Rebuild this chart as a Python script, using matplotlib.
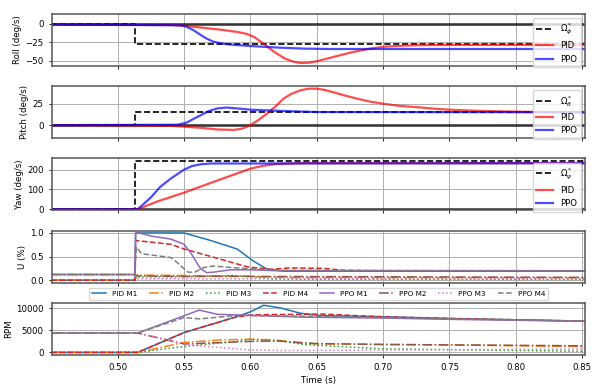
import matplotlib.pyplot as plt

# reference step (deg/s)
t_step = [0.45, 0.513, 0.513, 0.852]
roll_ref = [0, 0, -27, -27]
pitch_ref = [0, 0, 15, 15]
yaw_ref = [0, 0, 243, 243]

t_roll_pid = [0.45, 0.54, 0.55, 0.56, 0.5675, 0.578, 0.59, 0.597, 0.603, 0.61, 0.618, 0.626, 0.632, 0.638,
              0.644, 0.65, 0.662, 0.675, 0.69, 0.70, 0.715, 0.73, 0.76, 0.852]
roll_pid = [-1, -1.5, -2.7, -4.5, -6, -8, -11, -13.5, -18, -27, -38, -47, -51, -53,
            -52.5, -50.5, -45, -39, -33.5, -31, -29.5, -28.7, -28.5, -28.5]
t_roll_ppo = [0.45, 0.548, 0.552, 0.5575, 0.5625, 0.567, 0.572, 0.578, 0.585, 0.60, 0.62, 0.64, 0.66, 0.852]
roll_ppo = [-1, -2, -4, -9, -15, -20, -24, -26.5, -28, -30, -32, -33.5, -34, -34]

t_pitch_pid = [0.45, 0.54, 0.5625, 0.575, 0.5875, 0.594, 0.60, 0.606, 0.6125, 0.619, 0.625, 0.631, 0.6375,
               0.644, 0.65, 0.656, 0.662, 0.67, 0.68, 0.69, 0.70, 0.712, 0.725, 0.74, 0.75, 0.77, 0.79, 0.82, 0.852]
pitch_pid = [0, -0.8, -3, -5, -5.5, -4, 0, 6, 13.5, 22, 31, 36.5, 40.5,
             42.5, 42.5, 41, 38.5, 35, 31, 27.5, 25, 22.5, 21, 19, 18, 16.8, 16, 15.3, 15]
t_pitch_ppo = [0.45, 0.545, 0.552, 0.558, 0.5625, 0.568, 0.575, 0.582, 0.59, 0.60, 0.625, 0.65, 0.852]
pitch_ppo = [0, 0.5, 3, 8, 11.5, 16, 19.5, 20.5, 19.5, 18, 16.5, 15.3, 15]

t_yaw_pid = [0.45, 0.515, 0.53, 0.55, 0.575, 0.60, 0.61, 0.62, 0.64, 0.852]
yaw_pid = [0, 0, 40, 84, 145, 205, 220, 228, 233, 233]
t_yaw_ppo = [0.45, 0.515, 0.525, 0.532, 0.54, 0.55, 0.556, 0.5625, 0.57, 0.852]
yaw_ppo = [0, 0, 60, 113, 155, 200, 218, 227, 231, 232]

# motor commands U
motor_labels = ['PID M1', 'PID M2', 'PID M3', 'PID M4', 'PPO M1', 'PPO M2', 'PPO M3', 'PPO M4']
u_t = [
    [0.45, 0.513, 0.5135, 0.55, 0.57, 0.59, 0.602, 0.612, 0.625, 0.65, 0.852],
    [0.45, 0.513, 0.514, 0.55, 0.60, 0.63, 0.852],
    [0.45, 0.513, 0.514, 0.55, 0.585, 0.60, 0.615, 0.65, 0.852],
    [0.45, 0.513, 0.5135, 0.54, 0.55, 0.578, 0.598, 0.615, 0.63, 0.655, 0.67, 0.70, 0.852],
    [0.45, 0.513, 0.5135, 0.516, 0.526, 0.54, 0.55, 0.555, 0.5625, 0.567, 0.572, 0.585, 0.60, 0.62, 0.852],
    [0.45, 0.513, 0.514, 0.55, 0.60, 0.852],
    [0.45, 0.513, 0.514, 0.60, 0.852],
    [0.45, 0.513, 0.514, 0.518, 0.54, 0.545, 0.55, 0.553, 0.558, 0.565, 0.572, 0.585, 0.60, 0.62, 0.852],
]
u_v = [
    [0, 0, 1.0, 1.0, 0.84, 0.66, 0.41, 0.24, 0.19, 0.19, 0.19],
    [0, 0, 0.11, 0.10, 0.08, 0.06, 0.05],
    [0, 0, 0.07, 0.07, 0.10, 0.08, 0.03, 0.02, 0.015],
    [0, 0, 0.84, 0.76, 0.66, 0.44, 0.28, 0.23, 0.26, 0.25, 0.21, 0.20, 0.20],
    [0.12, 0.12, 1.0, 1.0, 0.93, 0.87, 0.76, 0.58, 0.24, 0.16, 0.17, 0.22, 0.22, 0.20, 0.20],
    [0.12, 0.12, 0.09, 0.08, 0.08, 0.06],
    [0.12, 0.12, 0.03, 0.03, 0.03],
    [0.12, 0.12, 0.70, 0.56, 0.48, 0.37, 0.24, 0.17, 0.17, 0.27, 0.30, 0.27, 0.24, 0.21, 0.20],
]

# motor speeds
rpm_t = [
    [0.45, 0.515, 0.55, 0.5875, 0.60, 0.61, 0.6225, 0.6375, 0.653, 0.70, 0.75, 0.80, 0.852],
    [0.45, 0.515, 0.55, 0.575, 0.60, 0.62, 0.64, 0.70, 0.75, 0.852],
    [0.45, 0.515, 0.55, 0.59, 0.60, 0.625, 0.64, 0.70, 0.852],
    [0.45, 0.515, 0.55, 0.5875, 0.60, 0.62, 0.655, 0.697, 0.75, 0.80, 0.852],
    [0.45, 0.515, 0.5615, 0.575, 0.60, 0.64, 0.70, 0.75, 0.80, 0.852],
    [0.45, 0.515, 0.55, 0.60, 0.62, 0.65, 0.70, 0.852],
    [0.45, 0.515, 0.55, 0.56, 0.60, 0.63, 0.70, 0.852],
    [0.45, 0.515, 0.55, 0.562, 0.59, 0.62, 0.70, 0.852],
]
rpm_v = [
    [0, 0, 4500, 7900, 9200, 10700, 10100, 8900, 8350, 8100, 7700, 7400, 7100],
    [0, 0, 2250, 2800, 3000, 2800, 2000, 1800, 1700, 1300],
    [0, 0, 1350, 2500, 3000, 2500, 1800, 800, 250],
    [0, 0, 4500, 7900, 8500, 8600, 8700, 8100, 7700, 7400, 7100],
    [4400, 4400, 9600, 8650, 8400, 8000, 7800, 7500, 7300, 7050],
    [4400, 4400, 1900, 2500, 2600, 2000, 1800, 1500],
    [4400, 4400, 2000, 1500, 550, 400, 550, 750],
    [4400, 4400, 7900, 7600, 8400, 8300, 7900, 7100],
]

motor_colors = ['tab:blue', 'tab:orange', 'tab:green', 'tab:red',
                'tab:purple', 'tab:brown', 'tab:pink', 'tab:gray']
motor_styles = ['-', '-.', ':', '--', '-', '-.', ':', '--']

plt.rcParams['font.size'] = 6.2
plt.rcParams['xtick.major.size'] = 2.5
plt.rcParams['ytick.major.size'] = 2.5
plt.rcParams['xtick.major.width'] = 0.6
plt.rcParams['ytick.major.width'] = 0.6
plt.rcParams['axes.labelpad'] = 2.5

fig, axes = plt.subplots(5, 1, figsize=(5.98, 3.84), dpi=100, sharex=True)
fig.subplots_adjust(left=0.087, right=0.978, top=0.964, bottom=0.076, hspace=0.39)

rate_panels = [
    ('Roll (deg/s)', roll_ref, t_roll_pid, roll_pid, t_roll_ppo, roll_ppo, r'$\Omega^*_\phi$', (-56.7, 13.5)),
    ('Pitch (deg/s)', pitch_ref, t_pitch_pid, pitch_pid, t_pitch_ppo, pitch_ppo, r'$\Omega^*_\theta$', (-15, 45.5)),
    ('Yaw (deg/s)', yaw_ref, t_yaw_pid, yaw_pid, t_yaw_ppo, yaw_ppo, r'$\Omega^*_\psi$', (-5, 257)),
]

for ax, (ylab, ref, tpid, vpid, tppo, vppo, reflab, ylim) in zip(axes[:3], rate_panels):
    ax.axhline(0, color='k', alpha=0.7, linewidth=2.0)
    ax.plot(t_step, ref, 'k--', label=reflab, linewidth=1.2)
    ax.plot(tpid, vpid, color='r', alpha=0.7, linewidth=1.6, label='PID')
    ax.plot(tppo, vppo, color='b', alpha=0.7, linewidth=1.6, label='PPO')
    ax.set_ylabel(ylab)
    ax.set_ylim(*ylim)
    ax.grid(True, linewidth=0.7)
    ax.legend(loc='upper right', fontsize=6.2)

ax_u = axes[3]
for tt, vv, lab, c, ls in zip(u_t, u_v, motor_labels, motor_colors, motor_styles):
    ax_u.plot(tt, vv, color=c, linestyle=ls, label=lab, linewidth=1.1)
ax_u.set_ylabel('U (%)')
ax_u.set_ylim(-0.05, 1.05)
ax_u.grid(True, linewidth=0.7)
ax_u.legend(loc='upper center', bbox_to_anchor=(0.5, -0.035), ncol=8, fontsize=5.2,
            columnspacing=1.6, borderpad=0.4)

ax_rpm = axes[4]
for tt, vv, lab, c, ls in zip(rpm_t, rpm_v, motor_labels, motor_colors, motor_styles):
    ax_rpm.plot(tt, vv, color=c, linestyle=ls, label=lab, linewidth=1.1)
ax_rpm.set_ylabel('RPM')
ax_rpm.set_ylim(-550, 11250)
ax_rpm.grid(True, linewidth=0.7)
ax_rpm.set_xlabel('Time (s)')
ax_rpm.set_xlim(0.4505, 0.852)
ax_rpm.set_xticks([0.50, 0.55, 0.60, 0.65, 0.70, 0.75, 0.80, 0.85])

for ax in axes:
    for sp in ax.spines.values():
        sp.set_color('#555555')
        sp.set_linewidth(1.1)

fig.savefig('out.png', dpi=100)
